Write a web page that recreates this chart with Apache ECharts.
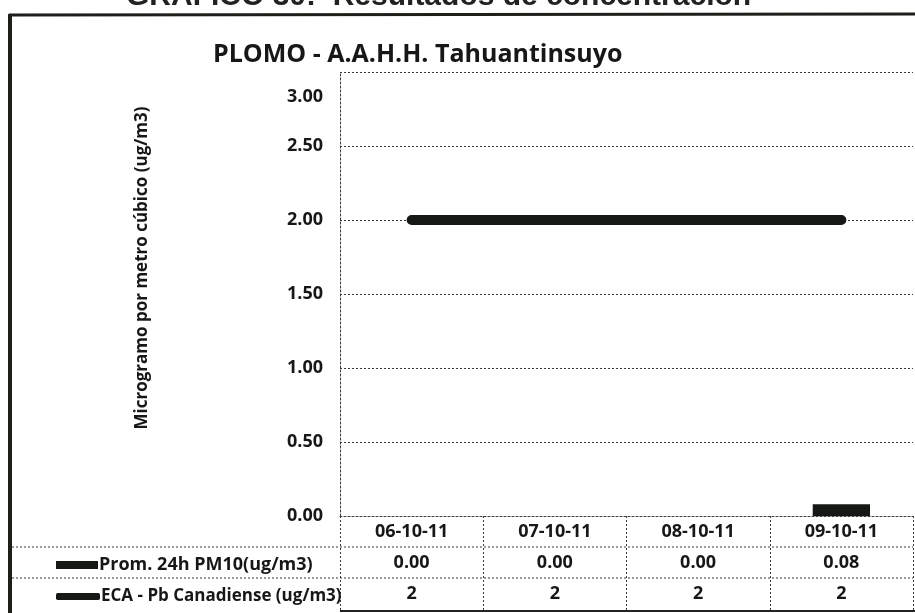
<!DOCTYPE html>
<html lang="es">
<head>
    <meta charset="UTF-8">
    <title>PLOMO - A.A.H.H. Tahuantinsuyo</title>
    <style>
        html, body { margin: 0; padding: 0; background: #fff; }
        #main { width: 915px; height: 613px; }
    </style>
</head>
<body>
    <div id="main"></div>
    <script src="https://cdn.jsdelivr.net/npm/echarts@6/dist/echarts.min.js"></script>
    <script>
        // datos del grafico
        var fechas = ['06-10-11', '07-10-11', '08-10-11', '09-10-11'];
        var pm10 = [0.00, 0.00, 0.00, 0.08];
        var eca = [2, 2, 2, 2];
        var nombrePm10 = 'Prom. 24h PM10(ug/m3)';
        var nombreEca = 'ECA - Pb Canadiense (ug/m3)';
        var yMax = 3;

        var negro = '#161816';
        var fuente = '"Open Sans", Lato, sans-serif';
        var punteado = { color: '#3a3a3a', width: 1, type: [2, 2] };

        var myChart = echarts.init(document.getElementById('main'));

        var option = {
            animation: false,
            backgroundColor: '#fff',
            title: {
                text: 'PLOMO - A.A.H.H. Tahuantinsuyo',
                left: 208,
                top: 37,
                textStyle: { fontFamily: fuente, fontWeight: 'bold', fontSize: 25, color: negro }
            },
            legend: [
                {
                    data: [nombrePm10],
                    left: 51,
                    top: 551,
                    icon: 'rect',
                    itemWidth: 42,
                    itemHeight: 8,
                    textStyle: { fontFamily: fuente, fontWeight: 'bold', fontSize: 18, color: negro, padding: [0, 0, 0, -4] }
                },
                {
                    data: [nombreEca],
                    left: 51,
                    top: 583,
                    icon: 'roundRect',
                    itemWidth: 44,
                    itemHeight: 7,
                    textStyle: { fontFamily: fuente, fontWeight: 'bold', fontSize: 17, color: negro, padding: [0, 0, 0, -4] }
                }
            ],
            grid: { left: 340, right: 2, top: 72, bottom: 97 },
            xAxis: {
                type: 'category',
                data: fechas,
                boundaryGap: true,
                axisLine: { lineStyle: punteado },
                axisTick: { show: true, interval: 0, length: 96, lineStyle: punteado },
                axisLabel: {
                    margin: 0,
                    interval: 0,
                    formatter: function (v, i) {
                        return '{d|' + v + '}\n{v|' + pm10[i].toFixed(2) + '}\n{v|' + eca[i] + '}';
                    },
                    rich: {
                        d: { fontFamily: fuente, fontWeight: 'bold', fontSize: 18, color: negro, lineHeight: 31 },
                        v: { fontFamily: fuente, fontWeight: 'bold', fontSize: 18, color: negro, lineHeight: 31 }
                    }
                }
            },
            yAxis: {
                type: 'value',
                min: 0,
                max: yMax,
                interval: 0.5,
                axisLine: { show: true, lineStyle: punteado },
                axisTick: { show: false },
                splitLine: { show: true, lineStyle: punteado },
                axisLabel: {
                    margin: 17,
                    formatter: function (v) {
                        if (v === yMax) return '{top|' + v.toFixed(2) + '}';
                        return v.toFixed(2);
                    },
                    fontFamily: fuente,
                    fontWeight: 'bold',
                    fontSize: 18,
                    color: negro,
                    rich: {
                        top: { fontFamily: fuente, fontWeight: 'bold', fontSize: 18, color: negro, padding: [50, 0, 0, 0] }
                    }
                }
            },
            graphic: [
                // texto cortado arriba
                {
                    type: 'text', left: 126, top: -18, silent: true,
                    style: { text: 'GRAFICO 30:  Resultados de concentración', fontFamily: 'Liberation Sans, Arial, sans-serif', fontWeight: 'bold', fontSize: 30, fill: '#222' }
                },
                // marco
                { type: 'line', shape: { x1: 9, y1: 15, x2: 915, y2: 14 }, style: { stroke: '#1c1f1a', lineWidth: 3 } },
                { type: 'line', shape: { x1: 10, y1: 14, x2: 10, y2: 613 }, style: { stroke: '#1c1f1a', lineWidth: 4 } },
                { type: 'line', shape: { x1: 340, y1: 611, x2: 915, y2: 611 }, style: { stroke: '#222', lineWidth: 2 } },
                // lineas de la tabla
                { type: 'line', shape: { x1: 12, y1: 547, x2: 913, y2: 547 }, style: { stroke: '#3a3a3a', lineWidth: 1, lineDash: [2, 2] } },
                { type: 'line', shape: { x1: 12, y1: 578, x2: 913, y2: 578 }, style: { stroke: '#3a3a3a', lineWidth: 1, lineDash: [2, 2] } },
                // titulo del eje
                {
                    type: 'text', x: 142, y: 268, rotation: Math.PI / 2, silent: true,
                    style: { text: 'Microgramo por metro cúbico (ug/m3)', fontFamily: fuente, fontWeight: 'bold', fontSize: 17, fill: negro, align: 'center', verticalAlign: 'middle' }
                }
            ],
            series: [
                {
                    name: nombrePm10,
                    type: 'bar',
                    data: pm10,
                    barWidth: '40%',
                    itemStyle: { color: negro }
                },
                {
                    name: nombreEca,
                    type: 'line',
                    data: eca,
                    symbol: 'none',
                    showSymbol: false,
                    clip: false,
                    itemStyle: { color: negro },
                    lineStyle: { color: negro, width: 10, cap: 'round' },
                    // linea de cuadricula superior (3.00)
                    markLine: {
                        silent: true,
                        symbol: 'none',
                        label: { show: false },
                        lineStyle: { color: '#3a3a3a', width: 1, type: [2, 2] },
                        data: [{ yAxis: yMax }]
                    }
                }
            ]
        };

        myChart.setOption(option);
    </script>
</body>
</html>
